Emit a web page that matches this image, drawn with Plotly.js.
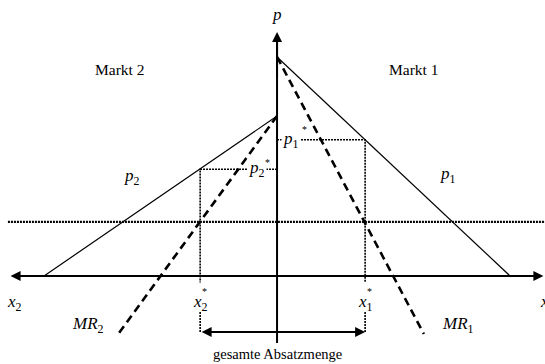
<!DOCTYPE html>
<html>
<head>
<meta charset="utf-8">
<script src="https://cdn.plot.ly/plotly-3.0.1.min.js"></script>
<style>html,body{margin:0;padding:0;background:#fff;}#chart{width:545px;height:364px;}</style>
</head>
<body>
<div id="chart"></div>
<script>
// Schematic third-degree price discrimination (quantities of market 2 plotted to the left)
// Market 1 demand and marginal revenue (quantity x1, price p)
var d1X = [0, 10];
var d1P = [10, 0];
var mr1X = [0, 6.3];
var mr1P = [10, -2.65];
// Market 2 demand and marginal revenue (quantity x2 drawn as negative x)
var d2X = [0, -10];
var d2P = [7.3, 0];
var mr2X = [0, -6.85];
var mr2P = [7.3, -2.7];
// Marginal cost level
var mcX = [-11.55, 11.5];
var mcP = [2.47, 2.47];
// Optimal quantities and prices
var x1Star = 3.78, p1Star = 6.22;
var x2Star = -3.3, p2Star = 4.87;

var FONT = 'Liberation Serif, Times New Roman, serif';
var traces = [
  {x: d1X, y: d1P, mode: 'lines', line: {color: '#000', width: 1.2}},
  {x: d2X, y: d2P, mode: 'lines', line: {color: '#000', width: 1.2}},
  {x: mr1X, y: mr1P, mode: 'lines', line: {color: '#000', width: 2.6, dash: '8px,5px'}},
  {x: mr2X, y: mr2P, mode: 'lines', line: {color: '#000', width: 2.6, dash: '8px,5px'}},
  {x: mcX, y: mcP, mode: 'lines', line: {color: '#000', width: 2.2, dash: '2px,1px'}},
  // dotted guides
  {x: [0, x1Star, x1Star], y: [p1Star, p1Star, -0.3], mode: 'lines', line: {color: '#000', width: 1.6, dash: '2px,1px'}},
  {x: [0, x2Star, x2Star], y: [p2Star, p2Star, -0.3], mode: 'lines', line: {color: '#000', width: 1.6, dash: '2px,1px'}},
  {x: [x1Star, x1Star], y: [-1.65, -2.56], mode: 'lines', line: {color: '#000', width: 1.6, dash: '2px,1px'}},
  {x: [x2Star, x2Star], y: [-1.65, -2.56], mode: 'lines', line: {color: '#000', width: 1.6, dash: '2px,1px'}},
  // vertical axis line
  {x: [0, 0], y: [-3.06, 11.0], mode: 'lines', line: {color: '#000', width: 2}}
];

function txt(x, y, text, size, extra) {
  var a = {x: x, y: y, xref: 'x', yref: 'y', text: text, showarrow: false,
    font: {family: FONT, size: size, color: '#000'}};
  for (var k in extra) a[k] = extra[k];
  return a;
}
function arrow(x, y, ax, ay, side) {
  return {x: x, y: y, ax: ax, ay: ay, xref: 'x', yref: 'y', axref: 'x', ayref: 'y',
    text: '', showarrow: true, arrowhead: 2, arrowsize: 1, arrowwidth: 2,
    arrowcolor: '#000', arrowside: side || 'end', standoff: 0, startstandoff: 0};
}

var annotations = [
  arrow(11.43, 0, -11.5, 0, 'end+start'),
  arrow(0, 11.14, 0, 9.0, 'end'),
  arrow(x1Star, -2.56, x2Star, -2.56, 'end+start'),
  txt(0, 11.96, '<i>p</i>', 17),
  txt(-6.74, 9.41, 'Markt 2', 15.5),
  txt(5.88, 9.41, 'Markt 1', 15.5),
  txt(-6.22, 4.5, '<i>p</i><sub>2</sub>', 17),
  txt(7.34, 4.6, '<i>p</i><sub>1</sub>', 17),
  txt(0.62, 6.22, '<i>p</i><sub>1</sub>', 17, {bgcolor: '#fff'}),
  txt(1.16, 6.67, '*', 10),
  txt(-0.85, 4.87, '<i>p</i><sub>2</sub>', 17, {bgcolor: '#fff'}),
  txt(-0.43, 5.16, '*', 10),
  txt(-11.25, -1.25, '<i>x</i><sub>2</sub>', 17),
  txt(x2Star, -1.25, '<i>x</i><sub>2</sub>', 17),
  txt(x2Star + 0.2, -0.7, '*', 10),
  txt(x1Star, -1.25, '<i>x</i><sub>1</sub>', 17),
  txt(x1Star + 0.2, -0.7, '*', 10),
  txt(11.5, -1.25, '<i>x</i><sub>1</sub>', 17, {xanchor: 'left', xshift: -7}),
  txt(-8.1, -2.25, '<i>MR</i><sub>2</sub>', 17),
  txt(7.75, -2.25, '<i>MR</i><sub>1</sub>', 17),
  txt(0, -4.0, 'gesamte Absatzmenge', 14.5, {yanchor: 'bottom'})
];

var layout = {
  width: 545, height: 364,
  margin: {l: 0, r: 0, t: 0, b: 0},
  paper_bgcolor: '#fff', plot_bgcolor: '#fff',
  showlegend: false,
  xaxis: {range: [-11.89, 11.5], visible: false, fixedrange: true},
  yaxis: {range: [-4.02, 12.6], visible: false, fixedrange: true},
  annotations: annotations
};
Plotly.newPlot('chart', traces, layout, {displayModeBar: false, staticPlot: true});
</script>
</body>
</html>
